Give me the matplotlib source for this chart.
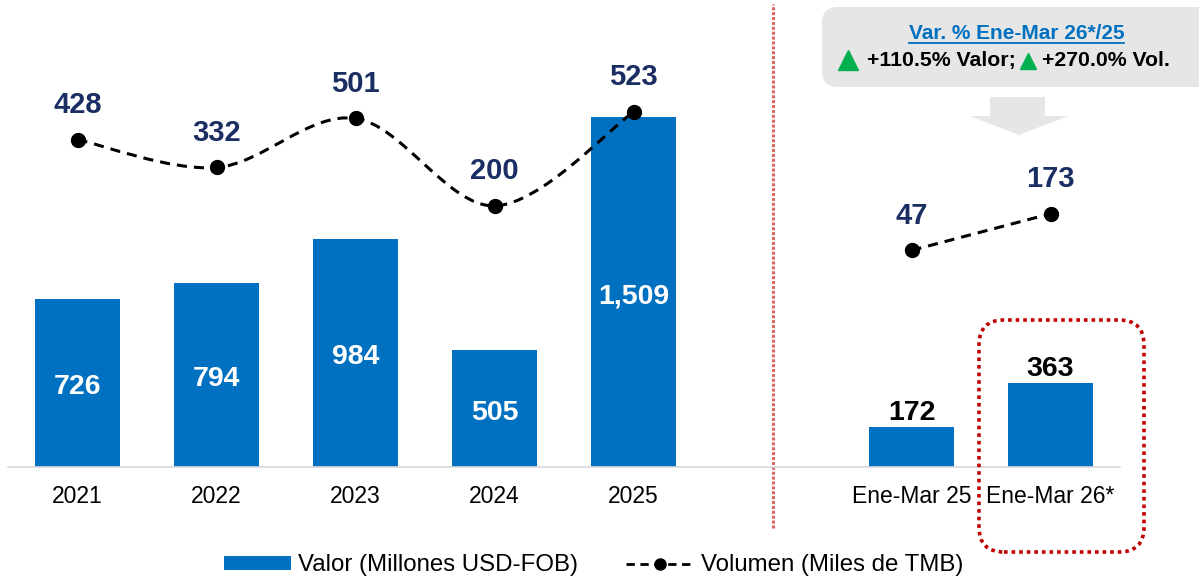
import numpy as np
import matplotlib
matplotlib.use("Agg")
import matplotlib.pyplot as plt
from matplotlib.path import Path
from matplotlib.patches import PathPatch, FancyBboxPatch, Polygon, Patch
from matplotlib.lines import Line2D
from matplotlib.transforms import blended_transform_factory

plt.rcParams["font.family"] = ["Liberation Sans", "DejaVu Sans"]

# data
anios = ["2021", "2022", "2023", "2024", "2025"]
valor_anual = [726, 794, 984, 505, 1509]
vol_anual = [428, 332, 501, 200, 523]

trimestres = ["Ene-Mar 25", "Ene-Mar 26*"]
valor_trim = [172, 363]
vol_trim = [47, 173]

var_titulo = "Var. % Ene-Mar 26*/25"
var_valor = "+110.5% Valor;"
var_vol = "+270.0% Vol."

AZUL = "#0070C0"
NAVY = "#1A2E63"
VERDE = "#00B050"
GRIS = "#E7E6E6"

x_anual = np.arange(len(anios))
x_trim = np.arange(len(trimestres)) + len(anios) + 1

fig = plt.figure(figsize=(11.99, 5.8), dpi=100)
ax = fig.add_axes([8 / 1199, 113 / 580, 1112 / 1199, 467 / 580])
ax2 = ax.twinx()

# bars
ax.bar(x_anual, valor_anual, width=0.61, color=AZUL, zorder=2)
ax.bar(x_trim, valor_trim, width=0.61, color=AZUL, zorder=2)
for x, v in zip(x_anual, valor_anual):
    ax.annotate(f"{v:,}", (x, v / 2), xytext=(0, -3), textcoords="offset points",
                ha="center", va="center", color="white",
                fontsize=20.5, fontweight="bold")
for x, v in zip(x_trim, valor_trim):
    ax.annotate(f"{v:,}", (x, v), xytext=(0, 5), textcoords="offset points",
                ha="center", va="baseline", color="black",
                fontsize=20.5, fontweight="bold")

ax.set_xlim(-0.5, 7.5)
ax.set_ylim(0, 2014)
ax2.set_ylim(-698, 908)

ax.set_xticks(list(x_anual) + list(x_trim))
ax.set_xticklabels(anios + trimestres, fontsize=16.5)
ax.tick_params(axis="x", length=0, pad=13)
ax.set_yticks([])
ax2.set_yticks([])
for a in (ax, ax2):
    for s in ("top", "left", "right", "bottom"):
        a.spines[s].set_visible(False)
ax.spines["bottom"].set_visible(True)
ax.spines["bottom"].set_color("#D9D9D9")
ax.spines["bottom"].set_linewidth(1.2)

# smoothed volume line (bezier through the points)
P = np.column_stack([x_anual, vol_anual]).astype(float)
n = len(P)
verts = [tuple(P[0])]
codes = [Path.MOVETO]
for i in range(n - 1):
    p_prev = P[i - 1] if i > 0 else P[i]
    p_next2 = P[i + 2] if i + 2 < n else P[i + 1]
    c1 = P[i] + (P[i + 1] - p_prev) / 6
    c2 = P[i + 1] - (p_next2 - P[i]) / 6
    verts += [tuple(c1), tuple(c2), tuple(P[i + 1])]
    codes += [Path.CURVE4] * 3
ax2.add_patch(PathPatch(Path(verts, codes), fill=False, edgecolor="black",
                        lw=2.2, linestyle=(0, (3.3, 2.3)), zorder=3))
ax2.plot(x_anual, vol_anual, "o", color="black", ms=10, zorder=4)
ax2.plot(x_trim, vol_trim, color="black", lw=2.2, linestyle=(0, (3.3, 2.3)),
         marker="o", ms=10, zorder=4)
for x, v in list(zip(x_anual, vol_anual)) + list(zip(x_trim, vol_trim)):
    ax2.annotate(str(v), (x, v), xytext=(0, 25), textcoords="offset points",
                 ha="center", va="center", color=NAVY, fontsize=21,
                 fontweight="bold", annotation_clip=False)

# red divider between annual and quarterly
tr = blended_transform_factory(ax.transData, fig.transFigure)
ax.plot([5, 5], [52 / 580, 576 / 580], transform=tr, color="#E06666",
        lw=2.2, linestyle=(0, (1, 0.6)), clip_on=False, zorder=1)

inch = fig.dpi_scale_trans

# dotted highlight around Ene-Mar 26*
fig.patches.append(FancyBboxPatch((9.84, 0.33), 1.55, 2.22,
                                  boxstyle="round,pad=0.05,rounding_size=0.25",
                                  transform=inch, fill=False, edgecolor="#C00000",
                                  lw=2.6, linestyle=(0, (1, 1.1)), zorder=5))

# variation callout
fig.patches.append(FancyBboxPatch((8.22, 4.93), 4.0, 0.80,
                                  boxstyle="round,pad=0,rounding_size=0.16",
                                  transform=inch, facecolor=GRIS, edgecolor="none"))
fig.patches.append(Polygon([(9.90, 4.83), (10.45, 4.83), (10.45, 4.64), (10.68, 4.64),
                            (10.19, 4.45), (9.70, 4.64), (9.90, 4.64)],
                           closed=True, transform=inch, facecolor=GRIS,
                           edgecolor="none"))

t1 = fig.text(10.165, 5.41, var_titulo, transform=inch, ha="center", va="baseline",
              color=AZUL, fontsize=15, fontweight="bold")
fig.text(8.67, 5.14, var_valor, transform=inch, ha="left", va="baseline",
         color="black", fontsize=15.3, fontweight="bold")
fig.text(10.42, 5.14, var_vol, transform=inch, ha="left", va="baseline",
         color="black", fontsize=15.3, fontweight="bold")
fig.lines.append(Line2D([8.475], [5.20], marker="^", ms=15, color=VERDE,
                        transform=inch, linestyle="none"))
fig.lines.append(Line2D([10.28], [5.195], marker="^", ms=12, color=VERDE,
                        transform=inch, linestyle="none"))

fig.canvas.draw()
bb = t1.get_window_extent().transformed(inch.inverted())
fig.lines.append(Line2D([bb.x0, bb.x1], [5.375, 5.375], color=AZUL, lw=1.3,
                        transform=inch))

# legend
handles = [Patch(facecolor=AZUL, edgecolor="none"),
           Line2D([], [], color="black", lw=2, linestyle=(0, (3, 2)),
                  marker="o", ms=8)]
labels = ["Valor (Millones USD-FOB)", "Volumen (Miles de TMB)"]
fig.legend(handles, labels, loc="center", bbox_to_anchor=(0.495, 0.025), ncol=2,
           frameon=False, fontsize=17.3, handlelength=2.8, handleheight=0.55,
           handletextpad=0.3, columnspacing=2.0, borderpad=0)

fig.savefig("out.png", dpi=100)
